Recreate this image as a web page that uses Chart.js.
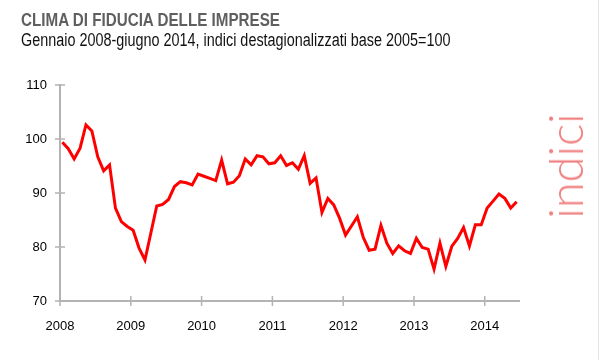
<!DOCTYPE html>
<html>
<head>
<meta charset="utf-8">
<script src="https://cdn.jsdelivr.net/npm/chart.js@4.4.1/dist/chart.umd.min.js"></script>
<style>
  body { margin: 0; background: #fff; }
  #wrap { position: relative; width: 599px; height: 360px; overflow: hidden; border-right: 1px solid #e4e4e4; box-sizing: border-box; }
  #chart1 { position: absolute; left: 0; top: 0; }
  .head { position: absolute; left: 21px; white-space: nowrap; font-family: 'Liberation Sans', Arial, sans-serif; transform-origin: left top; transform: scaleX(0.8); }
  #title { top: 10px; font-size: 19px; line-height: 19px; font-weight: bold; color: #5f5f5f; }
  #subtitle { top: 31px; font-size: 18px; line-height: 18px; color: #111; }
  #side { position: absolute; left: 565px; top: 166px; transform: translate(-50%, -50%) rotate(-90deg); font-family: Lato, 'Open Sans', sans-serif; font-weight: 300; font-size: 47px; color: #f07f7f; white-space: nowrap; }
</style>
</head>
<body>
<div id="wrap">
  <canvas id="chart1" width="599" height="360"></canvas>
  <div class="head" id="title">CLIMA DI FIDUCIA DELLE IMPRESE</div>
  <div class="head" id="subtitle">Gennaio 2008-giugno 2014, indici destagionalizzati base 2005=100</div>
  <div id="side">indici</div>
</div>
<script>
// tick labels
const years = ['2008', '2009', '2010', '2011', '2012', '2013', '2014'];
const yTicks = [70, 80, 90, 100, 110];

// monthly index, Jan 2008 .. Jun 2014
const fiducia = [
  99.4, 98.2, 96.3, 98.3, 102.6, 101.5, 96.7, 94.1, 95.2, 87.2, 84.7, 83.8,
  83.1, 79.8, 77.6, 82.6, 87.6, 87.9, 88.8, 91.2, 92.1, 91.9, 91.5, 93.5,
  93.1, 92.7, 92.3, 96.1, 91.7, 92.0, 93.2, 96.3, 95.2, 96.9, 96.7, 95.4,
  95.6, 96.9, 95.1, 95.6, 94.4, 96.9, 91.8, 92.8, 86.4, 89.0, 87.8, 85.3,
  82.2, 83.9, 85.6, 81.8, 79.4, 79.6, 84.0, 80.7, 78.8, 80.2, 79.3, 78.8,
  81.6, 79.9, 79.6, 75.9, 80.7, 76.4, 80.1, 81.6, 83.6, 80.2, 84.1, 84.1,
  87.2, 88.5, 89.8, 89.0, 87.2, 88.4
];

const axisGray = '#b3b3b3';
const labelFont = { family: "'Liberation Sans', Arial, sans-serif", size: 13 };

// tick marks crossing the axis lines
const crossTicks = {
  id: 'crossTicks',
  beforeDatasetsDraw(chart) {
    const c = chart.ctx, xs = chart.scales.x, ys = chart.scales.y;
    c.save();
    c.strokeStyle = axisGray;
    c.lineWidth = 1.5;
    xs.ticks.forEach((t, i) => {
      const px = xs.getPixelForTick(i);
      c.beginPath(); c.moveTo(px, ys.bottom - 5); c.lineTo(px, ys.bottom + 5); c.stroke();
    });
    ys.ticks.forEach((t, i) => {
      const py = ys.getPixelForTick(i);
      c.beginPath(); c.moveTo(xs.left - 5, py); c.lineTo(xs.left + 5, py); c.stroke();
    });
    c.restore();
  }
};

const ctx1 = document.getElementById('chart1').getContext('2d');
const chart1 = new Chart(ctx1, {
  type: 'line',
  data: {
    datasets: [{
      label: 'Clima di fiducia',
      data: fiducia.map((v, i) => ({ x: i, y: v })),
      borderColor: '#ff0000',
      borderWidth: 3,
      pointRadius: 0,
      tension: 0,
      fill: false
    }]
  },
  options: {
    responsive: false,
    animation: false,
    layout: { padding: { top: 85, right: 80, bottom: 0, left: 0 } },
    plugins: { legend: { display: false }, tooltip: { enabled: false } },
    scales: {
      x: {
        type: 'linear',
        min: -0.4,
        max: 77.4,
        afterBuildTicks: s => { s.ticks = years.map((y, i) => ({ value: i * 12 - 0.4 })); },
        afterFit: s => { s.height = 59; },
        grid: { display: false, drawTicks: false },
        border: { display: true, color: axisGray, width: 2 },
        ticks: {
          autoSkip: false, maxRotation: 0, padding: 18,
          color: '#000', font: labelFont,
          callback: (v, i) => years[i]
        }
      },
      y: {
        min: 70,
        max: 110,
        afterBuildTicks: s => { s.ticks = yTicks.map(v => ({ value: v })); },
        afterFit: s => { s.width = 60; },
        grid: { display: false, drawTicks: false },
        border: { display: true, color: axisGray, width: 2 },
        ticks: { padding: 13, color: '#000', font: labelFont }
      }
    }
  },
  plugins: [crossTicks]
});
</script>
</body>
</html>
